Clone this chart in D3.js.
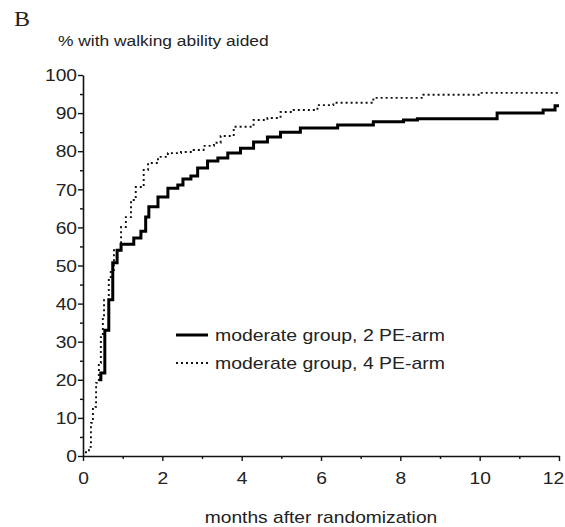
<!DOCTYPE html>
<html>
<head>
<meta charset="utf-8">
<script src="https://cdn.jsdelivr.net/npm/d3@7"></script>
<style>
    body { margin: 0; background: #fff; }
    text { font-family: "Liberation Sans", Arial, sans-serif; fill: #222; }
</style>
</head>
<body>
<div class="km-chart"></div>
<script>
// 2 PE-arm (solid): months, cumulative %
let monthsSolid = [0.40, 0.45, 0.55, 0.65, 0.75, 0.86, 0.96, 1.28, 1.46, 1.58, 1.66, 1.89, 2.14, 2.39, 2.52, 2.72,
    2.89, 3.14, 3.40, 3.65, 3.97, 4.30, 4.65, 4.98, 5.48, 6.42, 7.32, 8.08, 8.43, 10.44, 11.60, 11.9, 12];
let valuesSolid = [20, 21.8, 33, 41, 50.7, 54, 55.6, 57.2, 59, 62.7, 65.4, 68, 70.3, 71.1, 72.7, 73.5,
    75.6, 77.4, 78.2, 79.5, 80.8, 82.4, 83.7, 85.0, 86.1, 86.9, 87.7, 88.2, 88.5, 90.0, 90.8, 91.9, 91.9];

// 4 PE-arm (dotted)
let monthsDotted = [0.05, 0.15, 0.20, 0.25, 0.33, 0.40, 0.45, 0.50, 0.53, 0.65, 0.70, 0.78, 0.96, 1.08, 1.21, 1.33,
    1.53, 1.64, 1.89, 2.14, 2.47, 2.79, 3.04, 3.30, 3.47, 3.80, 4.30, 4.65, 4.98, 5.31, 5.91, 6.31, 7.17, 7.32,
    8.58, 10.01, 11.95, 12];
let valuesDotted = [1.0, 2.4, 8.7, 12.9, 19.2, 24.4, 31.2, 36.5, 40.9, 46.2, 48.8, 54, 60.1, 62.7, 67.2, 70.6,
    75.1, 76.9, 78.5, 79.5, 79.8, 80.3, 81.4, 82.2, 84.0, 86.4, 88.2, 88.7, 90.3, 90.8, 92.1, 92.7, 92.7, 94.0,
    94.8, 95.3, 95.5, 95.5];

let xTicks = [0, 2, 4, 6, 8, 10, 12];
let yTicks = [0, 10, 20, 30, 40, 50, 60, 70, 80, 90, 100];
let legendLabels = ["moderate group, 2 PE-arm", "moderate group, 4 PE-arm"];

// the scanned figure is a bit stretched sideways, so text gets the same stretch
const STRETCH = "scale(1.2,1)";

let svg = d3.select(".km-chart").append("svg")
    .attr("width", 565).attr("height", 527);

let margin = {top: 75, right: 6, bottom: 71, left: 83},
    width = 565 - margin.left - margin.right,
    height = 527 - margin.top - margin.bottom,
    g = svg.append("g").attr("transform", "translate(" + margin.left + "," + margin.top + ")");

let x = d3.scaleLinear().domain([0, 12]).range([0, width]);
let y = d3.scaleLinear().domain([0, 100]).range([height, 0]);

function addText(px, py, size, txt, anchor) {
    return svg.append("text")
        .attr("transform", "translate(" + px + "," + py + ") " + STRETCH)
        .attr("font-size", size)
        .attr("text-anchor", anchor || "start")
        .text(txt);
}

// panel letter + y title
addText(14, 26, "20px", "B")
    .style("font-family", "'Liberation Serif', 'Times New Roman', serif");
addText(58, 46, "14.5px", "% with walking ability aided");

// minor ticks
g.append("g")
    .attr("transform", "translate(0," + height + ")")
    .call(d3.axisBottom(x).tickValues(d3.range(1, 12, 2)).tickSize(3).tickFormat(""))
    .call(a => a.select(".domain").remove());
g.append("g")
    .call(d3.axisLeft(y).tickValues(d3.range(5, 100, 10)).tickSize(3).tickFormat(""))
    .call(a => a.select(".domain").remove());

let xAxis = g.append("g")
    .attr("transform", "translate(0," + height + ")")
    .call(d3.axisBottom(x).tickValues(xTicks).tickSize(5).tickSizeOuter(0).tickPadding(12));
xAxis.selectAll("text").attr("font-size", "16px")
    .attr("transform", function (d) { return (d === 12 ? "translate(-6,0) " : "") + STRETCH; });

let yAxis = g.append("g")
    .call(d3.axisLeft(y).tickValues(yTicks).tickSize(5).tickSizeOuter(0).tickPadding(0));
yAxis.selectAll("text").attr("font-size", "16px").attr("dy", "0.36em")
    .attr("transform", STRETCH);

[xAxis, yAxis].forEach(function (a) {
    a.selectAll(".domain").attr("stroke", "#111").attr("stroke-width", 1.6);
});
g.selectAll(".tick line").attr("stroke", "#111").attr("stroke-width", 1.4);

addText(321, 523, "16px", "months after randomization", "middle");

let line = d3.line()
    .x(function (d) { return x(d[0]); })
    .y(function (d) { return y(d[1]); })
    .curve(d3.curveStepAfter);

g.append("path")
    .datum(d3.zip(monthsDotted, valuesDotted))
    .attr("fill", "none").attr("stroke", "#111")
    .attr("stroke-width", 1.9).attr("stroke-dasharray", "2,3")
    .attr("d", line);

g.append("path")
    .datum(d3.zip(monthsSolid, valuesSolid))
    .attr("fill", "none").attr("stroke", "#000")
    .attr("stroke-width", 3)
    .attr("d", line);

// legend
let legend = svg.append("g").attr("transform", "translate(176,335)");
legend.append("line").attr("x1", 0).attr("x2", 32).attr("y1", 0).attr("y2", 0)
    .attr("stroke", "#000").attr("stroke-width", 3);
legend.append("line").attr("x1", 0).attr("x2", 32).attr("y1", 28).attr("y2", 28)
    .attr("stroke", "#111").attr("stroke-width", 1.9).attr("stroke-dasharray", "2,3");
legend.selectAll("text.lbl")
    .data(legendLabels)
    .enter().append("text").attr("class", "lbl")
    .attr("transform", function (d, i) { return "translate(39," + (i * 28 + 6) + ") " + STRETCH; })
    .attr("font-size", "16.2px")
    .text(function (d) { return d; });
</script>
</body>
</html>
